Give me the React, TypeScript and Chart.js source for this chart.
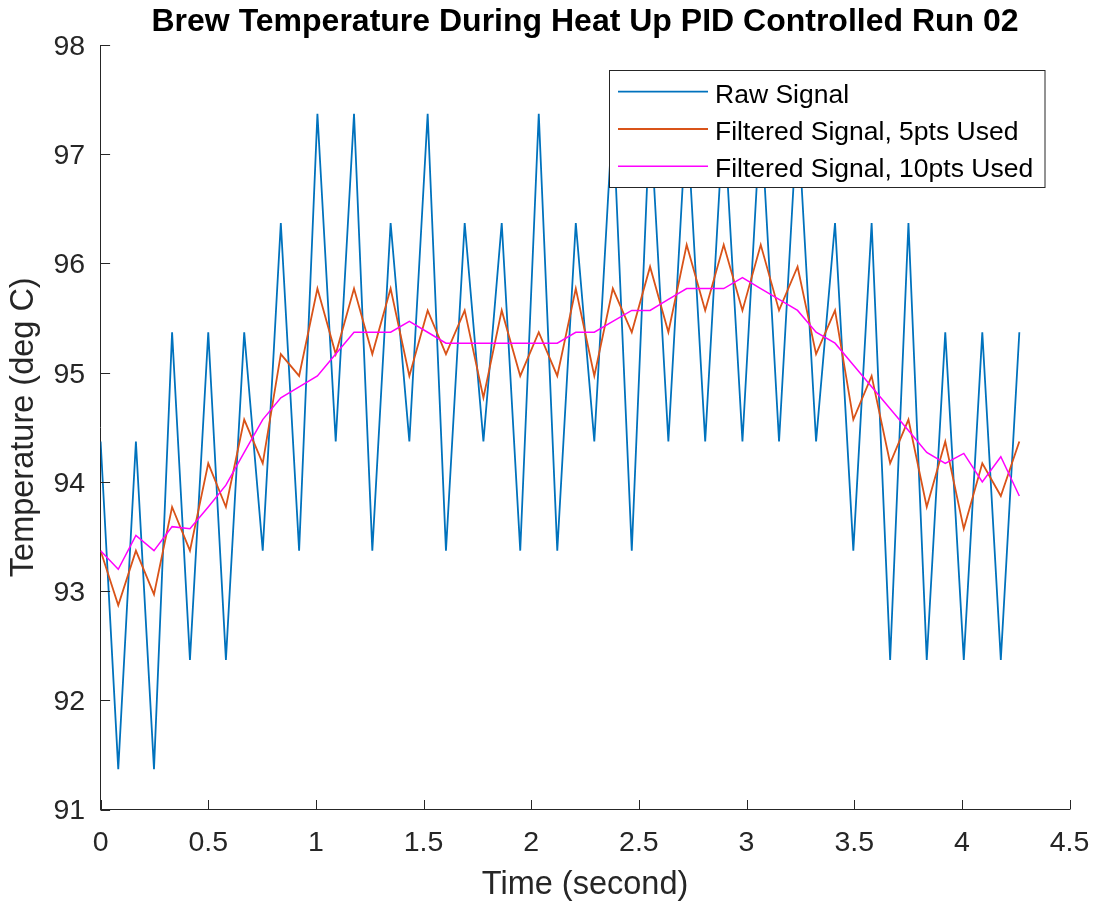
import React, { useEffect, useRef } from 'react';
import { Chart, registerables } from 'chart.js';

Chart.register(...registerables);

// ---- data ----
const timeSec = [
  0, 0.082, 0.164, 0.248, 0.332, 0.415, 0.5, 0.582, 0.667, 0.753,
  0.837, 0.922, 1.007, 1.092, 1.177, 1.262, 1.347, 1.434, 1.519, 1.604,
  1.691, 1.778, 1.863, 1.949, 2.035, 2.121, 2.207, 2.293, 2.379, 2.467,
  2.552, 2.637, 2.722, 2.808, 2.894, 2.981, 3.066, 3.151, 3.237, 3.323,
  3.411, 3.496, 3.581, 3.667, 3.752, 3.837, 3.923, 4.009, 4.095, 4.181,
  4.267,
];

const rawSignal = [
  94.37, 91.37, 94.37, 91.37, 95.37, 92.37, 95.37, 92.37, 95.37, 93.37,
  96.37, 93.37, 97.37, 94.37, 97.37, 93.37, 96.37, 94.37, 97.37, 93.37,
  96.37, 94.37, 96.37, 93.37, 97.37, 93.37, 96.37, 94.37, 97.37, 93.37,
  97.37, 94.37, 97.37, 94.37, 97.37, 94.37, 97.37, 94.37, 97.37, 94.37,
  96.37, 93.37, 96.37, 92.37, 96.37, 92.37, 95.37, 92.37, 95.37, 92.37,
  95.37,
];

const filtered5 = [
  93.37, 92.87, 93.37, 92.97, 93.77, 93.37, 94.17, 93.77, 94.57, 94.17,
  95.17, 94.97, 95.77, 95.17, 95.77, 95.17, 95.77, 94.97, 95.57, 95.17,
  95.57, 94.77, 95.57, 94.97, 95.37, 94.97, 95.77, 94.97, 95.77, 95.37,
  95.97, 95.37, 96.17, 95.57, 96.17, 95.57, 96.17, 95.57, 95.97, 95.17,
  95.57, 94.57, 94.97, 94.17, 94.57, 93.77, 94.37, 93.57, 94.17, 93.87,
  94.37,
];

const filtered10 = [
  93.37, 93.2, 93.51, 93.37, 93.59, 93.57, 93.77, 93.97, 94.27, 94.57,
  94.77, 94.87, 94.97, 95.17, 95.37, 95.37, 95.37, 95.47, 95.37, 95.27,
  95.27, 95.27, 95.27, 95.27, 95.27, 95.27, 95.37, 95.37, 95.47, 95.57,
  95.57, 95.67, 95.77, 95.77, 95.77, 95.87, 95.77, 95.67, 95.57, 95.37,
  95.27, 95.07, 94.87, 94.67, 94.47, 94.27, 94.17, 94.26, 94.0, 94.23,
  93.87,
];

const seriesLabels = ['Raw Signal', 'Filtered Signal, 5pts Used', 'Filtered Signal, 10pts Used'];
const seriesColors = ['#0072BD', '#D95319', '#FF00FF'];

const titleText = 'Brew Temperature During Heat Up PID Controlled Run 02';
const xTitle = 'Time (second)';
const yTitle = 'Temperature (deg C)';

const FONT = "'Liberation Sans', Arial, Helvetica, sans-serif";
const AXIS_COLOR = '#262626';

const toPoints = (ys: number[]) => timeSec.map((x, i) => ({ x, y: ys[i] }));

const innerTicksPlugin = {
  id: 'innerTicks',
  afterDraw(chart: any) {
    const { ctx, chartArea } = chart;
    const xs = chart.scales.x;
    const ys = chart.scales.y;
    ctx.save();
    ctx.strokeStyle = AXIS_COLOR;
    ctx.lineWidth = 1;
    ctx.beginPath();
    xs.ticks.forEach((_t: any, i: number) => {
      const px = Math.round(xs.getPixelForTick(i)) + 0.5;
      ctx.moveTo(px, chartArea.bottom);
      ctx.lineTo(px, chartArea.bottom - 9.5);
    });
    ys.ticks.forEach((_t: any, i: number) => {
      const py = Math.round(ys.getPixelForTick(i)) + 0.5;
      ctx.moveTo(chartArea.left, py);
      ctx.lineTo(chartArea.left + 9.5, py);
    });
    ctx.stroke();
    ctx.restore();
  },
};

const boxLegendPlugin = {
  id: 'boxLegend',
  afterDraw(chart: any) {
    const { ctx } = chart;
    const boxX = 609.5;
    const boxY = 70.5;
    const boxW = 435.5;
    const boxH = 117;
    ctx.save();
    ctx.fillStyle = '#ffffff';
    ctx.fillRect(boxX, boxY, boxW, boxH);
    ctx.strokeStyle = AXIS_COLOR;
    ctx.lineWidth = 1;
    ctx.strokeRect(boxX, boxY, boxW, boxH);
    const rowY = [91.7, 129, 166.3];
    ctx.font = `26.5px ${FONT}`;
    ctx.textAlign = 'left';
    ctx.textBaseline = 'alphabetic';
    chart.data.datasets.forEach((ds: any, i: number) => {
      const y = rowY[i];
      ctx.strokeStyle = ds.borderColor;
      ctx.lineWidth = ds.borderWidth;
      ctx.beginPath();
      ctx.moveTo(618, y);
      ctx.lineTo(708, y);
      ctx.stroke();
      ctx.fillStyle = '#000000';
      ctx.fillText(ds.label, 715, y + 11);
    });
    ctx.restore();
  },
};

export default function App() {
  const canvasRef = useRef<HTMLCanvasElement | null>(null);

  useEffect(() => {
    const canvas = canvasRef.current;
    if (!canvas) return;
    const chart = new Chart(canvas, {
      type: 'line',
      data: {
        datasets: [
          {
            label: seriesLabels[0],
            data: toPoints(rawSignal),
            borderColor: seriesColors[0],
            backgroundColor: seriesColors[0],
            borderWidth: 1.8,
            pointRadius: 0,
            tension: 0,
            order: 3,
          },
          {
            label: seriesLabels[1],
            data: toPoints(filtered5),
            borderColor: seriesColors[1],
            backgroundColor: seriesColors[1],
            borderWidth: 1.8,
            pointRadius: 0,
            tension: 0,
            order: 2,
          },
          {
            label: seriesLabels[2],
            data: toPoints(filtered10),
            borderColor: seriesColors[2],
            backgroundColor: seriesColors[2],
            borderWidth: 1.5,
            pointRadius: 0,
            tension: 0,
            order: 1,
          },
        ],
      },
      options: {
        responsive: false,
        animation: false,
        devicePixelRatio: 1,
        layout: { padding: { left: 0, right: 26.5, top: 0, bottom: 0 } },
        plugins: {
          legend: { display: false },
          tooltip: { enabled: false },
          title: {
            display: true,
            text: titleText,
            color: '#000000',
            fullSize: false,
            font: { family: FONT, size: 32, weight: 'bold' },
            padding: { top: 3, bottom: 3.6 },
          },
        },
        scales: {
          x: {
            type: 'linear',
            min: 0,
            max: 4.5,
            grid: { display: false, drawTicks: false, tickLength: 0 },
            border: { display: true, color: AXIS_COLOR, width: 1 },
            ticks: {
              stepSize: 0.5,
              color: AXIS_COLOR,
              font: { family: FONT, size: 28.5 },
              padding: 16.5,
              maxRotation: 0,
              autoSkip: false,
              callback: (v: any) => String(Math.round(Number(v) * 10) / 10),
            },
            title: {
              display: true,
              text: xTitle,
              color: AXIS_COLOR,
              font: { family: FONT, size: 32.5 },
              padding: { top: 0, bottom: 2.8 },
            },
            afterFit(scale: any) {
              scale.height = 97.5;
              scale.paddingLeft = 0;
              scale.paddingRight = 0;
            },
          },
          y: {
            type: 'linear',
            min: 91,
            max: 98,
            grid: { display: false, drawTicks: false, tickLength: 0 },
            border: { display: true, color: AXIS_COLOR, width: 1 },
            ticks: {
              stepSize: 1,
              color: AXIS_COLOR,
              font: { family: FONT, size: 28.5 },
              padding: 15.5,
              labelOffset: 2,
              autoSkip: false,
            },
            title: {
              display: true,
              text: yTitle,
              color: AXIS_COLOR,
              font: { family: FONT, size: 32.5 },
              padding: { top: 4.5, bottom: 0 },
            },
            afterFit(scale: any) {
              scale.width = 100.6;
            },
          },
        },
      },
      plugins: [innerTicksPlugin, boxLegendPlugin],
    } as any);
    return () => chart.destroy();
  }, []);

  return (
    <div style={{ position: 'absolute', left: 0, top: 0, width: 1096, height: 907, background: '#ffffff' }}>
      <canvas ref={canvasRef} width={1096} height={907} style={{ display: 'block' }} />
    </div>
  );
}
